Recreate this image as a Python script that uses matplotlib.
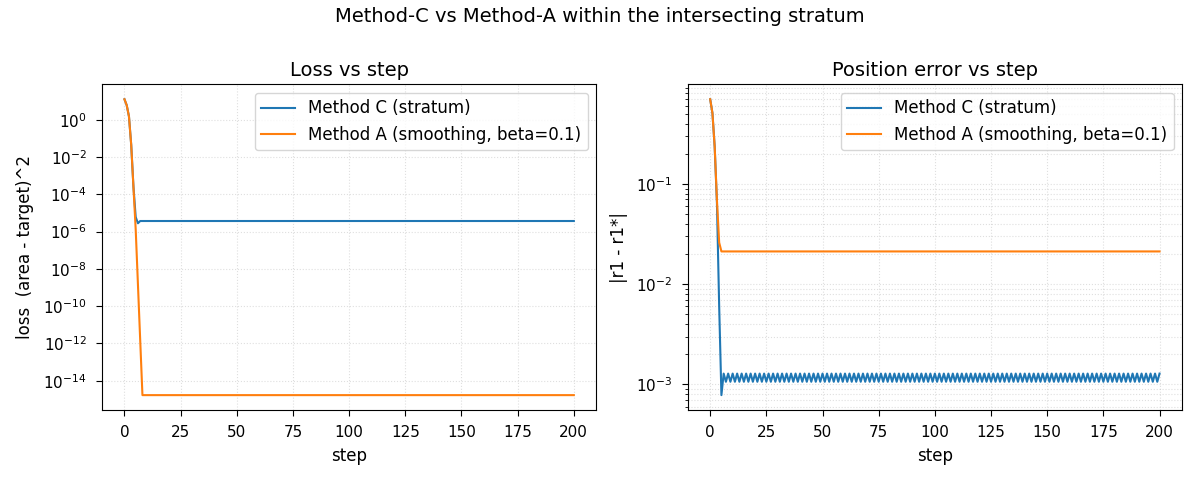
import numpy as np
import matplotlib
matplotlib.use("Agg")
import matplotlib.pyplot as plt

n_steps = 201

# Loss (left panel): early transient values, then plateau value
loss_c_head = [12.5, 6.0, 1.5, 0.045, 2.5e-4, 6e-6, 2.8e-6]
loss_c_plateau = 3.7e-6
loss_a_head = [12.5, 6.0, 1.5, 0.045, 2.5e-4, 1.3e-6, 1.4e-9, 1.6e-12]
loss_a_plateau = 1.7e-15

# Position error (right panel)
err_c_head = [0.70, 0.51, 0.235, 0.065, 0.006, 7.8e-4]
err_c_cycle = [1.28e-3, 1.06e-3]   # alternating values after transient
err_a_head = [0.70, 0.51, 0.235, 0.069, 0.026]
err_a_plateau = 0.0212

steps = np.arange(n_steps)

loss_c = loss_c_head + [loss_c_plateau] * (n_steps - len(loss_c_head))
loss_a = loss_a_head + [loss_a_plateau] * (n_steps - len(loss_a_head))
n_tail = n_steps - len(err_c_head)
err_c = err_c_head + (err_c_cycle * (n_tail // 2 + 1))[:n_tail]
err_a = err_a_head + [err_a_plateau] * (n_steps - len(err_a_head))

label_c = "Method C (stratum)"
label_a = "Method A (smoothing, beta=0.1)"

fig, (ax1, ax2) = plt.subplots(1, 2, figsize=(12, 4.8), dpi=100)
fig.suptitle("Method-C vs Method-A within the intersecting stratum", fontsize=14, y=0.985)

ax1.semilogy(steps, loss_c, color="#1f77b4", label=label_c)
ax1.semilogy(steps, loss_a, color="#ff7f0e", label=label_a)
ax1.set_title("Loss vs step", fontsize=14)
ax1.set_xlabel("step", fontsize=12, labelpad=5)
ax1.set_ylabel("loss  (area - target)^2", fontsize=12, labelpad=7)
ax1.grid(True, which="both", ls=":", alpha=0.4)
ax1.legend(loc="upper right", fontsize=12)

ax2.semilogy(steps, err_c, color="#1f77b4", label=label_c)
ax2.semilogy(steps, err_a, color="#ff7f0e", label=label_a)
ax2.set_title("Position error vs step", fontsize=14)
ax2.set_xlabel("step", fontsize=12, labelpad=5)
ax2.set_ylabel("|r1 - r1*|", fontsize=12, labelpad=6)
ax2.grid(True, which="both", ls=":", alpha=0.4)
ax2.legend(loc="upper right", fontsize=12)

for ax in (ax1, ax2):
    ax.tick_params(which="major", labelsize=11, length=4.5, pad=6.5)

fig.subplots_adjust(left=0.085, right=0.985, top=0.824, bottom=0.146, wspace=0.185)
fig.savefig("out.png")
